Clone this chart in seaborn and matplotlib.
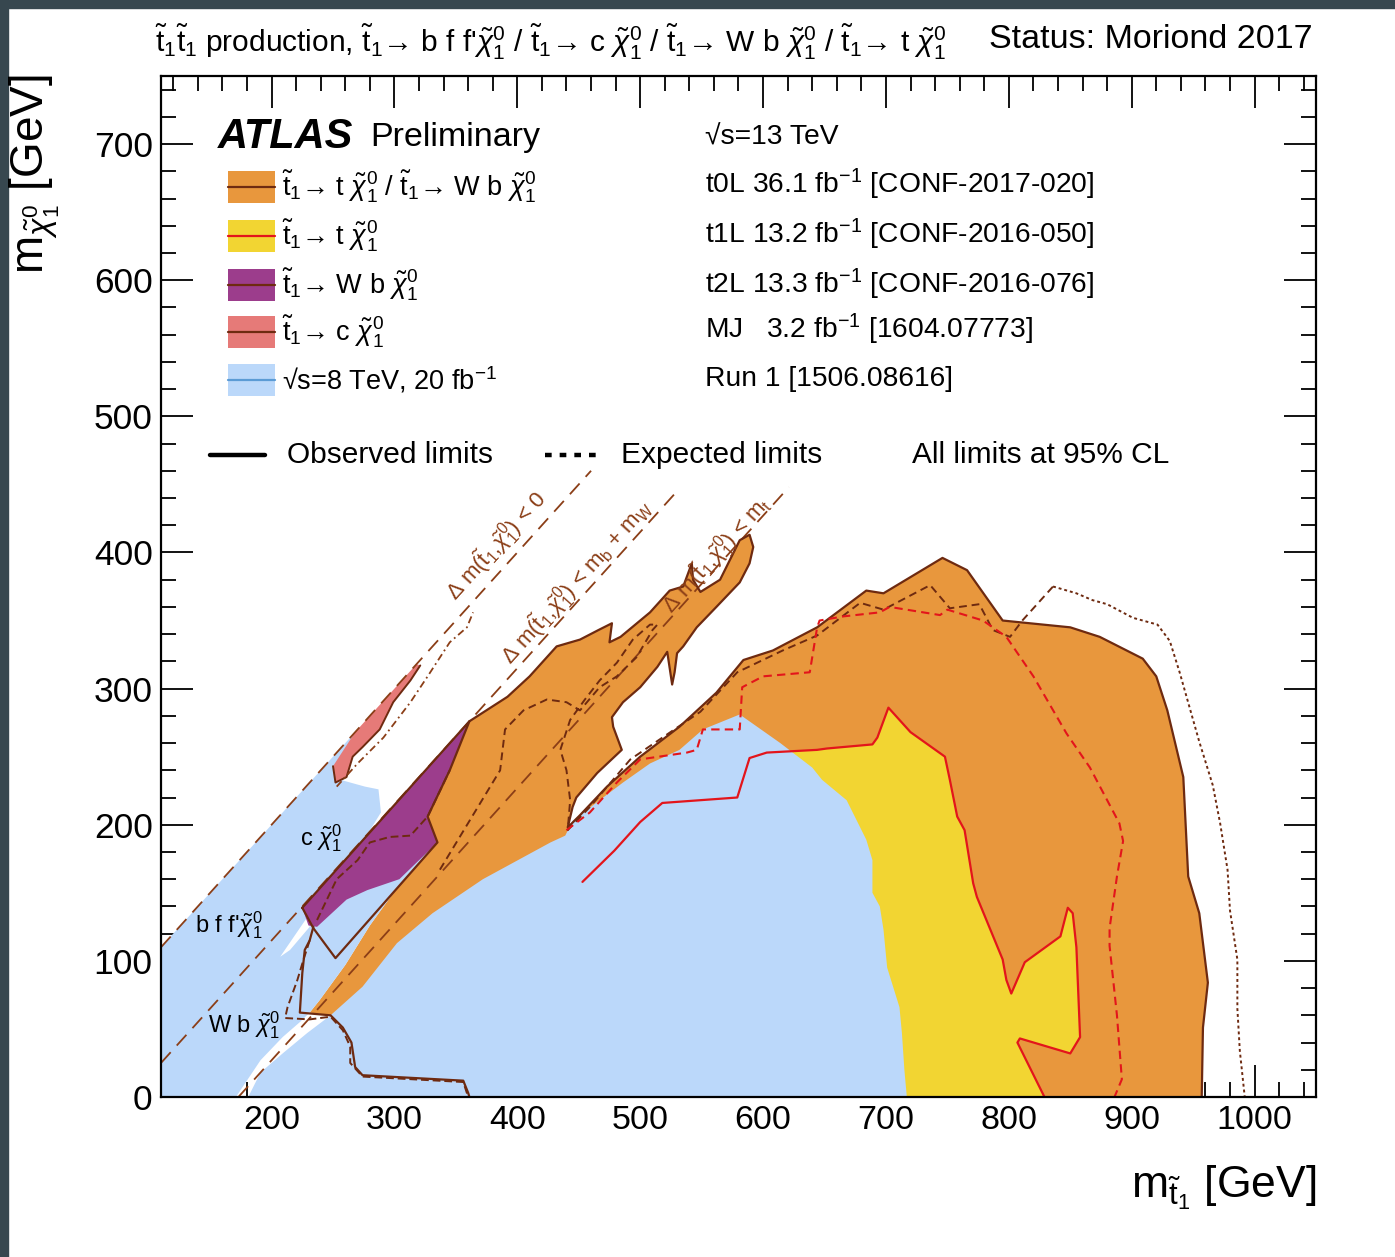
import matplotlib
matplotlib.use("Agg")
import matplotlib.pyplot as plt
from matplotlib.patches import Rectangle
from matplotlib.lines import Line2D
import seaborn as sns

# ---------------- data (GeV) ----------------
kin_offsets = [0, 85, 173]          # m_chi = m_stop - offset
kin_xmax = [460, 532, 621]

run1_left_x = [110, 110, 268, 264, 256, 276, 287, 289, 276, 321, 335, 304, 280, 260, 239, 231, 223, 209, 191, 171]
run1_left_y = [0, 110, 268, 244, 233, 228, 226, 209, 190, 190, 187, 156, 126, 97, 71, 62, 55, 44, 27, 0]

run1_right_x = [181, 191, 209, 229, 248, 274, 302, 331, 372, 427, 439, 445, 486, 508, 532, 551, 581, 614, 640, 648,
                668, 684, 689, 689, 695, 698, 701, 711, 713, 715, 717]
run1_right_y = [0, 18, 32, 47, 60, 81, 113, 135, 160, 187, 192, 203, 231, 245, 255, 270, 281, 260, 242, 233,
                218, 189, 174, 150, 140, 123, 95, 66, 47, 20, 0]

gap_x = [207, 229, 231, 215]
gap_y = [103, 132, 125, 108]

t0l_obs_x = [361, 392, 410, 432, 451, 466, 477, 475, 484, 508, 524, 535, 542, 543, 549, 565, 581, 589, 592, 589,
             581, 562, 546, 535, 530, 528, 526, 522, 514, 500, 486, 477, 478, 485, 465, 448, 445, 441, 451, 473,
             500, 532, 562, 584, 608, 644, 684, 698, 746, 766, 795, 850, 874, 909, 920, 929, 942, 946, 955, 962,
             958, 957]
t0l_obs_y = [276, 294, 309, 331, 336, 343, 348, 334, 338, 356, 372, 375, 392, 380, 371, 380, 409, 413, 404, 392,
             378, 360, 345, 331, 326, 312, 303, 327, 316, 301, 290, 279, 272, 255, 238, 220, 213, 198, 207, 228,
             250, 272, 297, 321, 328, 345, 372, 370, 396, 387, 350, 345, 338, 322, 309, 284, 235, 162, 135, 84,
             51, 0]
band_left_x = [231, 239, 260, 280, 304, 335, 321, 337]
band_left_y = [62, 71, 97, 126, 156, 187, 196, 248]

t0l_exp_x = [337, 386, 390, 405, 424, 440, 451, 467, 481, 497, 510, 514, 508, 494, 481, 467, 455, 443, 435, 440,
             443, 441, 459, 492, 549, 579, 616, 644, 679, 698, 736, 752, 776, 787, 801, 811, 836]
t0l_exp_y = [167, 240, 270, 284, 292, 290, 284, 301, 309, 323, 343, 347, 347, 336, 319, 306, 292, 277, 255, 240,
             218, 196, 213, 248, 283, 312, 328, 339, 363, 358, 376, 359, 362, 343, 338, 350, 375]
t0l_exp2_x = [836, 855, 868, 880, 901, 921, 931, 939, 955, 966, 972, 978, 980, 986, 986, 988, 992]
t0l_exp2_y = [375, 370, 365, 362, 352, 347, 335, 312, 261, 229, 201, 167, 137, 101, 65, 34, 0]

t1l_obs_x = [453, 479, 500, 518, 579, 589, 603, 644, 652, 689, 693, 702, 720, 748, 752, 758, 764, 771, 774, 795,
             798, 802, 813, 842, 848, 852, 855, 858, 850, 809, 807, 829]
t1l_obs_y = [158, 181, 202, 216, 220, 249, 253, 255, 256, 259, 264, 286, 268, 250, 233, 206, 196, 157, 147, 101,
             86, 76, 99, 118, 139, 135, 110, 44, 32, 43, 40, 0]
t1l_exp_x = [440, 459, 481, 500, 538, 546, 551, 581, 583, 600, 638, 644, 646, 665, 695, 703, 744, 750, 779, 798,
             820, 847, 866, 890, 893, 888, 882, 882, 888, 892, 886]
t1l_exp_y = [196, 209, 231, 248, 253, 255, 270, 270, 301, 309, 312, 345, 350, 353, 356, 360, 354, 358, 350, 338,
             309, 267, 242, 201, 188, 162, 124, 111, 60, 13, 0]

wb_fill_x = [225, 361, 345, 327, 335, 304, 278, 261, 237, 230]
wb_fill_y = [139, 276, 240, 206, 187, 160, 152, 145, 125, 126]
wb_outline_x = [225, 361, 345, 327, 335, 252, 234, 225]
wb_outline_y = [139, 276, 240, 206, 187, 102, 124, 139]
wb_obs_x = [234, 231, 227, 225, 223, 248, 258, 265, 268, 274, 356, 360, 361]
wb_obs_y = [125, 115, 108, 91, 62, 60, 51, 40, 22, 16, 12, 3, 0]
wb_exp_x = [231, 226, 221, 213, 211, 231, 248, 258, 264, 264, 274, 356, 360]
wb_exp_y = [115, 101, 86, 66, 58, 57, 59, 49, 37, 25, 15, 11, 0]
wb_exp2_x = [237, 253, 270, 280, 296, 313, 327, 345]
wb_exp2_y = [130, 160, 174, 187, 191, 192, 206, 240]

cc_fill_x = [252, 261, 266, 274, 288, 299, 313, 321, 318, 268, 250]
cc_fill_y = [231, 235, 250, 257, 270, 290, 306, 317, 318, 268, 243]
cc_obs_x = [250, 252, 261, 266, 274, 288, 299, 313, 321]
cc_obs_y = [243, 231, 235, 250, 257, 270, 290, 306, 317]
cc_exp_x = [253, 270, 291, 313, 327, 345, 359, 364]
cc_exp_y = [228, 245, 264, 290, 309, 334, 345, 356]

x_ticks = [200, 300, 400, 500, 600, 700, 800, 900, 1000]
y_ticks = [0, 100, 200, 300, 400, 500, 600, 700]

ST = r"$\tilde{\mathrm{t}}_1$"
CHI = r"$\tilde{\chi}_1^0$"
legend_labels = [
    ST + "→ t " + CHI + " / " + ST + "→ W b " + CHI,
    ST + "→ t " + CHI,
    ST + "→ W b " + CHI,
    ST + "→ c " + CHI,
    r"√s=8 TeV, 20 fb$^{-1}$",
]
info_labels = [
    "√s=13 TeV",
    r"t0L 36.1 fb$^{-1}$ [CONF-2017-020]",
    r"t1L 13.2 fb$^{-1}$ [CONF-2016-050]",
    r"t2L 13.3 fb$^{-1}$ [CONF-2016-076]",
    r"MJ   3.2 fb$^{-1}$ [1604.07773]",
    "Run 1 [1506.08616]",
]
title_text = (r"$\tilde{\mathrm{t}}_1\tilde{\mathrm{t}}_1$ production, " + ST + "→ b f f'" + CHI + " / "
              + ST + "→ c " + CHI + " / " + ST + "→ W b " + CHI + " / " + ST + "→ t " + CHI)

# ---------------- style ----------------
sns.set_theme(style="ticks")
plt.rcParams["font.family"] = ["Liberation Sans", "DejaVu Sans"]
plt.rcParams["mathtext.fontset"] = "custom"
plt.rcParams["mathtext.rm"] = "Liberation Sans"
plt.rcParams["mathtext.it"] = "Liberation Sans:italic"
plt.rcParams["mathtext.bf"] = "Liberation Sans:bold"
plt.rcParams["mathtext.sf"] = "Liberation Sans"
plt.rcParams["text.color"] = "black"
plt.rcParams["axes.labelcolor"] = "black"
plt.rcParams["xtick.color"] = "black"
plt.rcParams["ytick.color"] = "black"

C_ORANGE = "#e8973d"
C_YELLOW = "#f2d532"
C_BLUE = "#bbd8fa"
C_PURPLE = "#9c3d8c"
C_PINK = "#e67a78"
C_DARK = "#6e2a10"
C_RED = "#e3151b"
C_KIN = "#8b3e17"

fig = plt.figure(figsize=(13.95, 12.57), dpi=100)
fig.patch.set_facecolor("white")
ax = fig.add_axes([0.11541, 0.12729, 0.82796, 0.81225])
ax.set_facecolor("white")

fig.patches.append(Rectangle((0, 0), 8 / 1395, 1, transform=fig.transFigure, color="#37474f", zorder=-1))
fig.patches.append(Rectangle((0, 1 - 8 / 1257), 1, 8 / 1257, transform=fig.transFigure, color="#37474f", zorder=-1))


def sline(x, y, color, ls="-", lw=1.5, z=6):
    sns.lineplot(x=x, y=y, sort=False, estimator=None, ax=ax, legend=False,
                 color=color, linestyle=ls, linewidth=lw, zorder=z)


# fills
ax.fill(band_left_x + t0l_obs_x + [300, 248], band_left_y + t0l_obs_y + [0, 60], color=C_ORANGE, lw=0, zorder=1)
ax.fill(t1l_obs_x[4:] + [600], t1l_obs_y[4:] + [0], color=C_YELLOW, lw=0, zorder=2)
ax.fill(run1_left_x, run1_left_y, color=C_BLUE, lw=0, zorder=3)
ax.fill(run1_right_x, run1_right_y, color=C_BLUE, lw=0, zorder=3)
ax.fill(gap_x, gap_y, color="white", lw=0, zorder=3.5)
ax.fill(wb_fill_x, wb_fill_y, color=C_PURPLE, lw=0, zorder=4)
ax.fill(cc_fill_x, cc_fill_y, color=C_PINK, lw=0, zorder=4)

# kinematic lines
for off, xm in zip(kin_offsets, kin_xmax):
    x0 = max(110, off)
    sline([x0, xm], [x0 - off, xm - off], C_KIN, ls=(0, (8, 5)), lw=1.3, z=5)

# contours
sline(t0l_obs_x, t0l_obs_y, C_DARK, lw=1.6)
sline(t0l_exp_x, t0l_exp_y, C_DARK, ls=(0, (4, 2.5)), lw=1.4)
sline(t0l_exp2_x, t0l_exp2_y, C_DARK, ls=(0, (1.5, 1.5)), lw=1.4)
sline(t1l_obs_x, t1l_obs_y, C_RED, lw=1.6)
sline(t1l_exp_x, t1l_exp_y, C_RED, ls=(0, (4, 2.5)), lw=1.5)
sline(wb_outline_x, wb_outline_y, C_DARK, lw=1.6)
sline(wb_obs_x, wb_obs_y, C_DARK, lw=1.6)
sline(wb_exp_x, wb_exp_y, C_DARK, ls=(0, (4, 2)), lw=1.4)
sline(wb_exp2_x, wb_exp2_y, C_DARK, ls=(0, (4, 2)), lw=1.4)
sline(cc_obs_x, cc_obs_y, C_DARK, lw=1.4)
sline(cc_exp_x, cc_exp_y, C_KIN, ls=(0, (4, 2, 1, 2)), lw=1.3)

# axes
ax.set_xlim(110, 1050)
ax.set_ylim(0, 750)
ax.set_xticks(x_ticks)
ax.set_yticks(y_ticks)
ax.set_xticks(list(range(120, 1050, 20)), minor=True)
ax.set_yticks(list(range(0, 750, 20)), minor=True)
ax.set_xticklabels([str(v) for v in x_ticks])
ax.set_yticklabels([str(v) for v in y_ticks])
ax.tick_params(which="both", direction="in", top=True, right=True, width=1.3, colors="black")
ax.tick_params(axis="x", labelsize=24.5)
ax.tick_params(axis="y", labelsize=25.5)
ax.tick_params(which="major", length=23, pad=6)
ax.tick_params(which="minor", length=11)
for s in ax.spines.values():
    s.set_linewidth(1.6)
    s.set_color("black")
    s.set_zorder(10)
ax.set_xlabel("")
ax.set_ylabel("")

fig.text(35 / 1395, 1 - 74 / 1257, r"m$_{\tilde{\chi}^0_1}$ [GeV]", rotation=90, ha="center", va="top", fontsize=33)
fig.text(1316 / 1395, 1 - 1188 / 1257, r"m$_{\tilde{\mathrm{t}}_1}$ [GeV]", ha="right", va="center", fontsize=32)

# header
fig.text(155 / 1395, 1 - 42 / 1257, title_text, ha="left", va="center", fontsize=21.5)
fig.text(1313 / 1395, 1 - 40 / 1257, "Status: Moriond 2017", ha="right", va="center", fontsize=24.5)

# ATLAS block
ax.text(0.0494, 0.940, "ATLAS", transform=ax.transAxes, fontsize=30, fontweight="bold", style="italic",
        ha="left", va="center", zorder=8)
ax.text(0.181, 0.940, "Preliminary", transform=ax.transAxes, fontsize=24.5, ha="left", va="center", zorder=8)

fills = [C_ORANGE, C_YELLOW, C_PURPLE, C_PINK, C_BLUE]
lcols = [C_DARK, C_RED, C_DARK, C_DARK, "#5b9bd5"]
rows = [0.8913, 0.8433, 0.7953, 0.7493, 0.7023]
for lab, fc, lc, yc in zip(legend_labels, fills, lcols, rows):
    ax.add_patch(Rectangle((0.058, yc - 0.0157), 0.0407, 0.0314, transform=ax.transAxes, facecolor=fc,
                           edgecolor="none", zorder=8))
    ax.add_line(Line2D([0.058, 0.0987], [yc, yc], transform=ax.transAxes, color=lc, lw=1.6, zorder=9))
    ax.text(0.1048, yc, lab, transform=ax.transAxes, fontsize=19.5, ha="left", va="center", zorder=9)

info_rows = [0.9393, 0.8942, 0.8453, 0.7963, 0.7522, 0.7033]
for lab, yc in zip(info_labels, info_rows):
    ax.text(0.471, yc, lab, transform=ax.transAxes, fontsize=20.3, ha="left", va="center", zorder=9)

# line-style legend
ax.add_line(Line2D([0.0424, 0.090], [0.6288, 0.6288], transform=ax.transAxes, color="black", lw=3.2, zorder=9))
ax.text(0.109, 0.6288, "Observed limits", transform=ax.transAxes, fontsize=21.5, ha="left", va="center", zorder=9)
ax.add_line(Line2D([0.3325, 0.3775], [0.6288, 0.6288], transform=ax.transAxes, color="black", lw=3.2,
                   linestyle=(0, (1.5, 1.8)), zorder=9))
ax.text(0.398, 0.6288, "Expected limits", transform=ax.transAxes, fontsize=21.5, ha="left", va="center", zorder=9)
ax.text(0.650, 0.6288, "All limits at 95% CL", transform=ax.transAxes, fontsize=21.5, ha="left", va="center",
        zorder=9)

# diagonal labels
ang = 47.9
DM = r"$\Delta$ m(" + ST + "," + CHI + ")"
ax.text(383, 405, DM + " < 0", rotation=ang, rotation_mode="anchor",
        ha="center", va="center", fontsize=16, color=C_KIN, zorder=8)
ax.text(448, 378, DM + r" < m$_\mathrm{b}$ + m$_\mathrm{W}$",
        rotation=ang, rotation_mode="anchor", ha="center", va="center", fontsize=16, color=C_KIN, zorder=8)
ax.text(562, 398, DM + r" < m$_\mathrm{t}$", rotation=ang,
        rotation_mode="anchor", ha="center", va="center", fontsize=16, color=C_KIN, zorder=8)

ax.text(223, 190, "c " + CHI, fontsize=17, ha="left", va="center", zorder=8)
ax.text(138, 126, "b f f'" + CHI, fontsize=17, ha="left", va="center", zorder=8)
ax.text(148, 53, "W b " + CHI, fontsize=17, ha="left", va="center", zorder=8)

fig.savefig("out.png", dpi=100)
